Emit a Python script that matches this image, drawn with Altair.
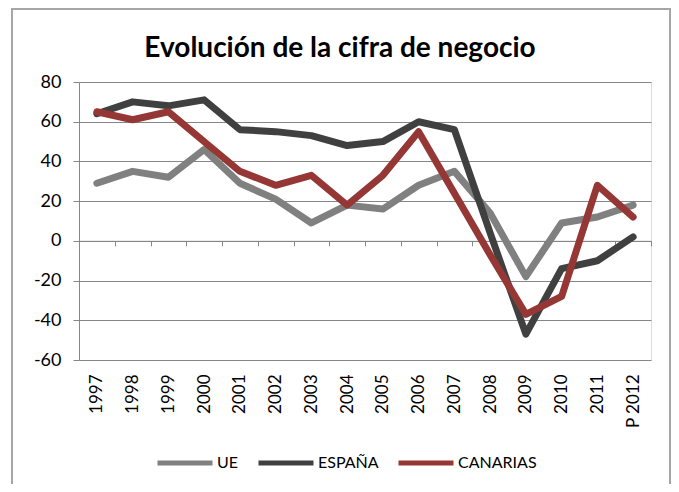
import altair as alt
import pandas as pd

years = ["1997", "1998", "1999", "2000", "2001", "2002", "2003", "2004",
         "2005", "2006", "2007", "2008", "2009", "2010", "2011", "P 2012"]
series_names = ["UE", "ESPAÑA", "CANARIAS"]
ue = [29, 35, 32, 46, 29, 21, 9, 18, 16, 28, 35, 14, -18, 9, 12, 18]
espana = [64, 70, 68, 71, 56, 55, 53, 48, 50, 60, 56, 4, -47, -14, -10, 2]
canarias = [65, 61, 65, 50, 35, 28, 33, 18, 33, 55, 24, -7, -37, -28, 28, 12]
colors = ["#808080", "#404040", "#953735"]
y_ticks = [-60, -40, -20, 0, 20, 40, 60, 80]
title_text = "Evolución de la cifra de negocio"

rows = []
for name, vals in zip(series_names, [ue, espana, canarias]):
    for yr, v in zip(years, vals):
        rows.append({"year": yr, "value": v, "serie": name})
df = pd.DataFrame(rows)
df_years = pd.DataFrame({"year": years})
df_one = pd.DataFrame({"k": [0]})

W, H = 572, 278
zero_offset = -(H - H * (80 / 140))
FONT = "Lato"
GRID = "#868686"

lines = alt.Chart(df).mark_line(strokeWidth=7, strokeJoin="round", strokeCap="round").encode(
    x=alt.X("year:N", sort=years, scale=alt.Scale(type="point", padding=0.5),
            axis=alt.Axis(orient="bottom", title=None, labelAngle=270, domain=False, ticks=False,
                          labelPadding=14, labelFontSize=17, labelFont=FONT, labelColor="#000000")),
    y=alt.Y("value:Q", scale=alt.Scale(domain=[-60, 80], nice=False),
            axis=alt.Axis(title=None, values=y_ticks, grid=True, gridColor=GRID, gridWidth=1,
                          domainColor=GRID, tickColor=GRID, tickSize=6, labelPadding=12,
                          labelExpr="toString(datum.value)",
                          labelFontSize=18, labelFont=FONT, labelColor="#000000")),
    color=alt.Color("serie:N", title=None,
                    scale=alt.Scale(domain=series_names, range=colors),
                    sort=series_names,
                    legend=alt.Legend(orient="none", legendX=76, legendY=351, direction="horizontal",
                                      symbolType="stroke", symbolSize=3025, symbolStrokeWidth=5,
                                      labelFont=FONT, labelFontSize=16, labelColor="#000000",
                                      labelOffset=2, columnPadding=9, padding=0)),
)

ticks = alt.Chart(df_years).mark_bar(opacity=0).encode(
    x=alt.X("year:N", sort=years, scale=alt.Scale(type="band", paddingInner=0, paddingOuter=0),
            axis=alt.Axis(orient="bottom", title=None, labels=False, offset=zero_offset,
                          tickBand="extent", tickSize=5, tickColor=GRID, domainColor=GRID,
                          grid=False)),
)

frame = alt.Chart(df_one).mark_rect(fill="transparent", stroke="#a6a6a6", strokeWidth=2).encode(
    x=alt.value(12 - 79), x2=alt.value(670 - 79),
    y=alt.value(9 - 82), y2=alt.value(600),
)

title = alt.Chart(df_one).mark_text(text=title_text, fontSize=28, fontWeight="bold", font=FONT,
                                    align="center", baseline="alphabetic", color="#000000").encode(
    x=alt.value(340 - 79), y=alt.value(57 - 82),
)

chart = alt.layer(frame, title, ticks, lines).resolve_scale(x="independent").properties(
    width=W, height=H,
    autosize=alt.AutoSizeParams(type="none"),
    padding={"left": 71, "top": 74, "right": 20, "bottom": 124},
).configure_view(stroke=None).configure(background="#ffffff")

chart.save("out.html", embed_options={"renderer": "svg", "actions": False})
